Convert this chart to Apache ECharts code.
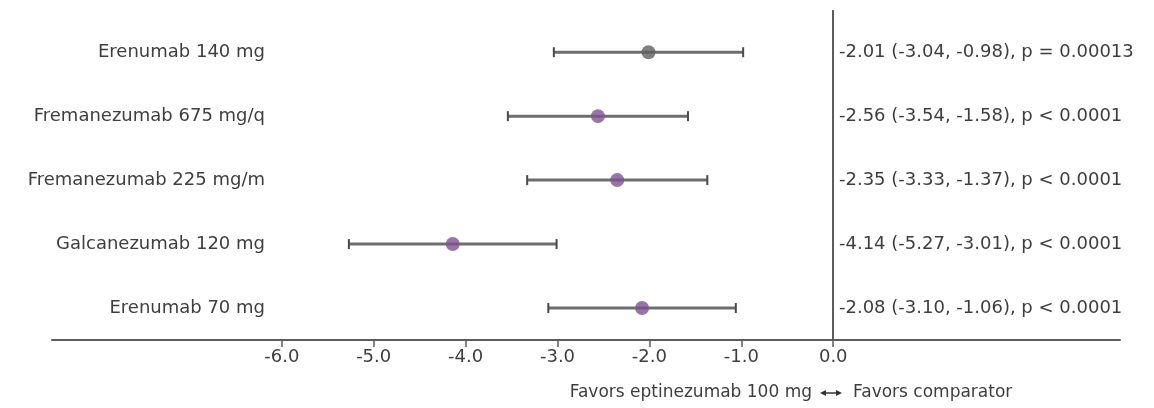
<!DOCTYPE html>
<html lang="en">
<head>
<meta charset="UTF-8">
<title>Forest plot - eptinezumab vs comparators</title>
<script src="https://cdn.jsdelivr.net/npm/echarts@6/dist/echarts.min.js"></script>
<style>
  html, body { margin: 0; padding: 0; background: #fff; }
  #main { width: 1154px; height: 408px; }
</style>
</head>
<body>
<div id="main"></div>
<script>
// data
var categories = ['Erenumab 140 mg', 'Fremanezumab 675 mg/q', 'Fremanezumab 225 mg/m', 'Galcanezumab 120 mg', 'Erenumab 70 mg'];
var estimates = [-2.01, -2.56, -2.35, -4.14, -2.08];
var lower = [-3.04, -3.54, -3.33, -5.27, -3.10];
var upper = [-0.98, -1.58, -1.37, -3.01, -1.06];
var pLabels = ['p = 0.00013', 'p < 0.0001', 'p < 0.0001', 'p < 0.0001', 'p < 0.0001'];
var xTicks = [-6, -5, -4, -3, -2, -1, 0];
var rows = [0, 1, 2, 3, 4];

// styling
var FONT = 'DejaVu Sans';
var TEXT = '#3e3e3e';
var AXIS = '#5c5c5c';
var dotColors = ['#5f5f5f', '#80538f', '#80538f', '#80538f', '#80538f'];

var statText = rows.map(function (i) {
    return estimates[i].toFixed(2) + ' (' + lower[i].toFixed(2) + ', ' + upper[i].toFixed(2) + '), ' + pLabels[i];
});

var chart = echarts.init(document.getElementById('main'));

function renderCI(params, api) {
    var row = api.value(2);
    var p1 = api.coord([api.value(0), row]);
    var p2 = api.coord([api.value(1), row]);
    var h = 5;
    return {
        type: 'group',
        children: [
            { type: 'line', shape: { x1: p1[0], y1: p1[1], x2: p2[0], y2: p2[1] },
              style: { stroke: '#6e6e6e', lineWidth: 3 } },
            { type: 'line', shape: { x1: p1[0], y1: p1[1] - h, x2: p1[0], y2: p1[1] + h },
              style: { stroke: '#4a4a4a', lineWidth: 2 } },
            { type: 'line', shape: { x1: p2[0], y1: p2[1] - h, x2: p2[0], y2: p2[1] + h },
              style: { stroke: '#4a4a4a', lineWidth: 2 } }
        ]
    };
}

var yBase = {
    type: 'value',
    inverse: true,
    min: -0.66,
    max: 4.5,
    axisLine: { show: false, onZero: false },
    axisTick: { show: false },
    splitLine: { show: false }
};

chart.setOption({
    animation: false,
    grid: { left: 52, right: 34, top: 10, bottom: 68, outerBoundsMode: 'none' },
    xAxis: {
        type: 'value',
        min: -8.5,
        max: 3.12,
        axisLine: { onZero: false, lineStyle: { color: AXIS, width: 2 } },
        axisTick: { show: true, customValues: xTicks, length: 7, lineStyle: { color: AXIS, width: 1.5 } },
        axisLabel: {
            customValues: xTicks,
            formatter: function (v) { return v.toFixed(1); },
            color: TEXT, fontFamily: FONT, fontSize: 18, margin: 8
        },
        splitLine: { show: false }
    },
    yAxis: [
        Object.assign({}, yBase, {
            position: 'left',
            axisLabel: {
                customValues: rows,
                formatter: function (v) { return categories[v]; },
                color: TEXT, fontFamily: FONT, fontSize: 18, margin: -213
            }
        }),
        Object.assign({}, yBase, {
            position: 'right',
            axisLabel: {
                customValues: rows,
                formatter: function (v) { return statText[v]; },
                color: TEXT, fontFamily: FONT, fontSize: 18, margin: -281
            }
        })
    ],
    series: [
        {
            type: 'custom',
            renderItem: renderCI,
            data: rows.map(function (i) { return [lower[i], upper[i], i]; }),
            z: 2
        },
        {
            type: 'scatter',
            symbolSize: 14,
            data: rows.map(function (i) {
                return { value: [estimates[i], i], itemStyle: { color: dotColors[i] } };
            }),
            z: 3,
            markLine: {
                silent: true,
                symbol: 'none',
                label: { show: false },
                lineStyle: { color: AXIS, width: 2, type: 'solid' },
                data: [{ xAxis: 0 }]
            }
        }
    ],
    graphic: [
        { type: 'text', x: 812, y: 393,
          style: { text: 'Favors eptinezumab 100 mg', align: 'right', verticalAlign: 'middle',
                   fontFamily: FONT, fontSize: 17, fill: TEXT } },
        { type: 'line', shape: { x1: 823, y1: 393, x2: 839, y2: 393 },
          style: { stroke: '#333', lineWidth: 1.5 } },
        { type: 'polygon', shape: { points: [[820, 393], [826, 390], [826, 396]] }, style: { fill: '#333' } },
        { type: 'polygon', shape: { points: [[842, 393], [836, 390], [836, 396]] }, style: { fill: '#333' } },
        { type: 'text', x: 853, y: 393,
          style: { text: 'Favors comparator', align: 'left', verticalAlign: 'middle',
                   fontFamily: FONT, fontSize: 17, fill: TEXT } }
    ]
});
</script>
</body>
</html>
